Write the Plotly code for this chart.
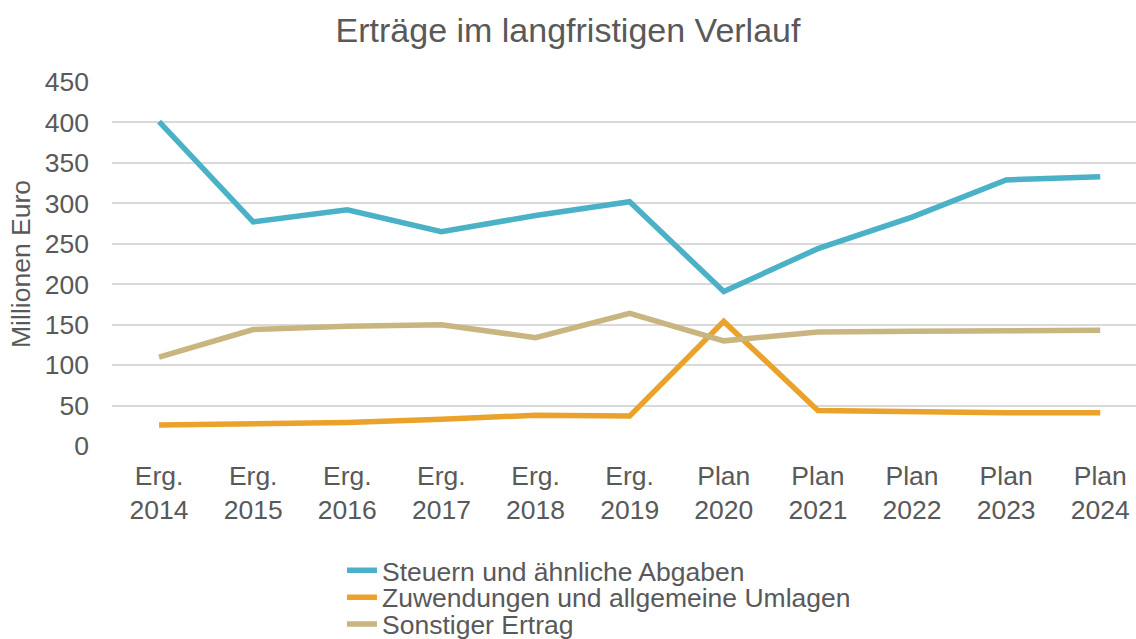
import plotly.graph_objects as go

categories = ["Erg.<br>2014", "Erg.<br>2015", "Erg.<br>2016", "Erg.<br>2017", "Erg.<br>2018",
              "Erg.<br>2019", "Plan<br>2020", "Plan<br>2021", "Plan<br>2022", "Plan<br>2023", "Plan<br>2024"]
steuern = [401, 277, 292, 265, 285, 302, 191, 244, 283, 329, 333]
zuwendungen = [26, 28, 29, 33, 38, 37, 154, 44, 42, 41, 41]
sonstiger = [110, 144, 148, 150, 134, 164, 130, 141, 142, 143, 143]
y_ticks = [0, 50, 100, 150, 200, 250, 300, 350, 400, 450]

names = ["Steuern und ähnliche Abgaben", "Zuwendungen und allgemeine Umlagen", "Sonstiger Ertrag"]
colors = ["#4BB1C7", "#EBA22B", "#C8B580"]
legend_ids = ["legend", "legend2", "legend3"]
legend_y = [-0.342, -0.416, -0.490]

FONT = 26.5
TXT = "#595959"

fig = go.Figure()
x_idx = list(range(len(categories)))
for vals, name, col, lg in zip([steuern, zuwendungen, sonstiger], names, colors, legend_ids):
    fig.add_trace(go.Scatter(x=x_idx, y=vals, mode="lines", name=name, legend=lg,
                             line=dict(color=col, width=5.5)))

leg_common = dict(orientation="v", x=0.2246, xanchor="left", yanchor="middle",
                  font=dict(size=FONT, color=TXT), bgcolor="rgba(0,0,0,0)",
                  borderwidth=0)

fig.update_layout(
    width=1136, height=639,
    paper_bgcolor="white", plot_bgcolor="white",
    font=dict(family="Liberation Sans, Arial, sans-serif", color=TXT, size=FONT),
    title=dict(text="Erträge im langfristigen Verlauf", x=0.5, xanchor="center",
               y=1 - 30 / 639, yanchor="middle", font=dict(size=34, color=TXT)),
    margin=dict(l=112, r=0, t=82, b=193, autoexpand=False),
    showlegend=True,
    legend=dict(y=legend_y[0], **leg_common),
    legend2=dict(y=legend_y[1], **leg_common),
    legend3=dict(y=legend_y[2], **leg_common),
    xaxis=dict(tickmode="array", tickvals=x_idx, ticktext=categories,
               range=[-0.5, 10.38], showgrid=False, zeroline=False, showline=False,
               ticks="", ticklabelstandoff=11, automargin=False,
               tickfont=dict(size=FONT, color=TXT)),
    yaxis=dict(range=[0, 450], tickmode="array", tickvals=y_ticks,
               showgrid=True, gridcolor="#D9D9D9", gridwidth=2, zeroline=False,
               showline=False, ticks="", ticklabelstandoff=22, automargin=False,
               tickfont=dict(size=FONT, color=TXT),
               title=dict(text="Millionen Euro", font=dict(size=FONT, color=TXT), standoff=6)),
)

fig.write_html("out.html", config={"displayModeBar": False},
               post_script="document.body.style.margin='0px';document.body.style.overflow='hidden';")
